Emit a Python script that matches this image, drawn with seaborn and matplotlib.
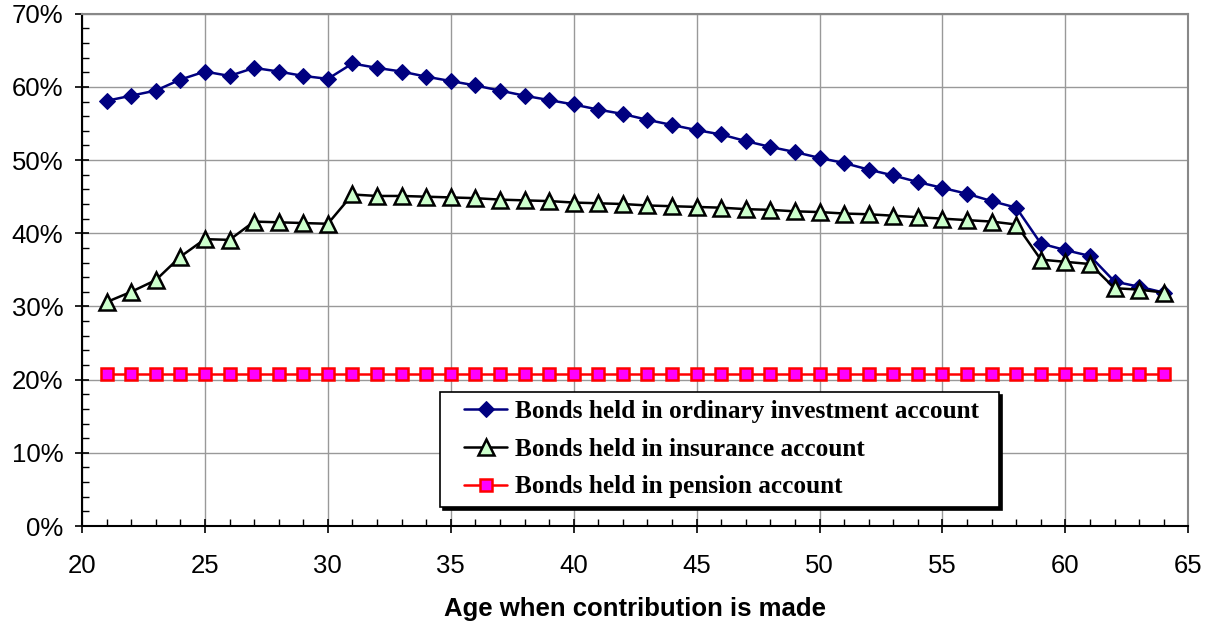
import matplotlib
matplotlib.use("Agg")
import matplotlib.pyplot as plt
import seaborn as sns
import pandas as pd
from matplotlib.lines import Line2D
from matplotlib.legend_handler import HandlerLine2D
from matplotlib.ticker import MultipleLocator, PercentFormatter

# data (percent)
ages = list(range(21, 65))
ordinary = [58.1, 58.8, 59.5, 61.0, 62.1, 61.5, 62.6, 62.1, 61.5, 61.1,
            63.2, 62.6, 62.1, 61.4, 60.8, 60.2, 59.5, 58.8, 58.2, 57.6,
            56.9, 56.3, 55.5, 54.8, 54.1, 53.5, 52.6, 51.8, 51.1, 50.3,
            49.6, 48.7, 47.9, 47.0, 46.2, 45.4, 44.4, 43.5, 38.6, 37.7,
            36.9, 33.4, 32.7, 31.9]
insurance = [30.6, 32.0, 33.6, 36.8, 39.2, 39.1, 41.6, 41.5, 41.4, 41.3,
             45.3, 45.1, 45.1, 45.0, 44.9, 44.8, 44.6, 44.5, 44.4, 44.2,
             44.1, 44.0, 43.8, 43.7, 43.6, 43.5, 43.3, 43.2, 43.0, 42.9,
             42.7, 42.6, 42.4, 42.2, 42.0, 41.8, 41.6, 41.2, 36.4, 36.1,
             35.8, 32.5, 32.3, 31.9]
pension = [20.8] * len(ages)

labels = ["Bonds held in ordinary investment account",
          "Bonds held in insurance account",
          "Bonds held in pension account"]

df = pd.DataFrame({"age": ages, "ordinary": ordinary,
                   "insurance": insurance, "pension": pension})


class InsetHandler(HandlerLine2D):
    # leaves some blank room left of the legend line
    def create_artists(self, legend, orig_handle, xdescent, ydescent,
                       width, height, fontsize, trans):
        shift = 0.27 * width
        return super().create_artists(legend, orig_handle, xdescent - shift,
                                      ydescent, width - shift, height,
                                      fontsize, trans)


sns.set_style("white")
plt.rcParams["font.family"] = ["Liberation Sans", "DejaVu Sans"]
plt.rcParams["text.color"] = "black"
plt.rcParams["axes.labelcolor"] = "black"

fig = plt.figure(figsize=(12.11, 6.24), dpi=100)
ax = fig.add_axes([0.0677, 0.157, 0.9136, 0.821])

sns.lineplot(data=df, x="age", y="ordinary", ax=ax, color="#000080", lw=1.8,
             marker="D", markersize=8.5, markerfacecolor="#000080",
             markeredgecolor="#000080", label=labels[0])
sns.lineplot(data=df, x="age", y="insurance", ax=ax, color="black", lw=1.8,
             marker="^", markersize=11.5, markerfacecolor="#ccffcc",
             markeredgecolor="black", markeredgewidth=1.8, label=labels[1])
sns.lineplot(data=df, x="age", y="pension", ax=ax, color="#ff0000", lw=1.8,
             marker="s", markersize=8.5, markerfacecolor="#ff00ff",
             markeredgecolor="#ff0000", markeredgewidth=1.8, label=labels[2])

ax.set_xlim(20, 65)
ax.set_ylim(0, 70)
ax.xaxis.set_major_locator(MultipleLocator(5))
ax.xaxis.set_minor_locator(MultipleLocator(1))
ax.yaxis.set_major_locator(MultipleLocator(10))
ax.yaxis.set_minor_locator(MultipleLocator(2))
ax.yaxis.set_major_formatter(PercentFormatter(decimals=0))

ax.grid(True, which="major", color="#999999", lw=1)
ax.set_axisbelow(True)
ax.tick_params(which="major", direction="inout", length=10, width=1.2,
               labelsize=18.5, colors="black", left=True, bottom=True)
ax.tick_params(axis="x", which="major", pad=15)
ax.tick_params(axis="y", which="major", pad=8.5)
ax.tick_params(which="minor", direction="in", length=5, width=1,
               colors="black", left=True, bottom=True)
for side in ["left", "bottom"]:
    ax.spines[side].set_color("black")
    ax.spines[side].set_linewidth(1.5)
for side in ["top", "right"]:
    ax.spines[side].set_color("#888888")
    ax.spines[side].set_linewidth(1.5)

ax.set_xlabel("Age when contribution is made", fontsize=18.5,
              fontweight="bold", labelpad=14, color="black")
ax.set_ylabel("")

handles, texts = ax.get_legend_handles_labels()
texts = [t + "\u2002" for t in texts]
leg = ax.legend(handles, texts, loc="upper left",
                bbox_to_anchor=(0.324, 0.262),
                frameon=True, fancybox=False, framealpha=1,
                shadow={"color": "black", "alpha": 1},
                edgecolor="black", borderpad=0.33, handlelength=2.3,
                handletextpad=0.3, labelspacing=0.58, borderaxespad=0,
                handler_map={Line2D: InsetHandler()},
                prop={"family": "Liberation Serif", "weight": "bold",
                      "size": 18.2})
leg.get_frame().set_linewidth(1.2)
for t in leg.get_texts():
    t.set_color("black")

fig.savefig("out.png", dpi=100)
plt.close(fig)
